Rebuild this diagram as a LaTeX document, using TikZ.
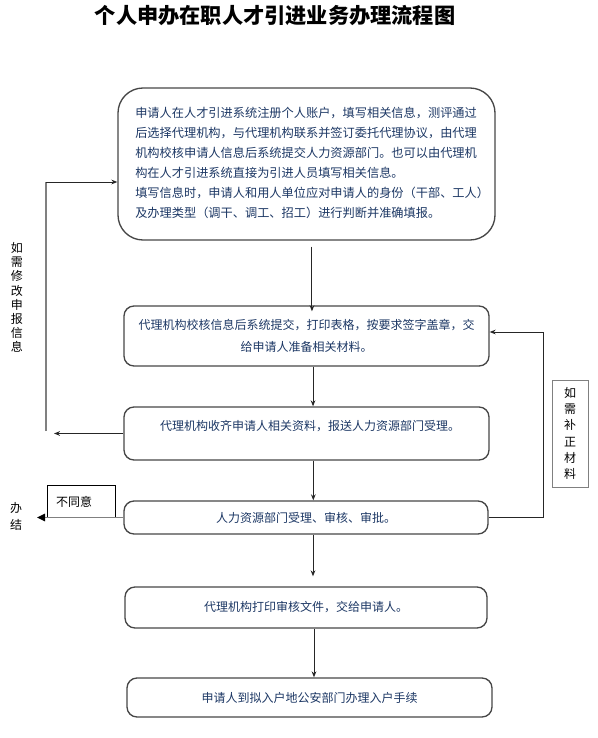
\documentclass[tikz,border=0pt]{standalone}
\usepackage{fontspec}
\setmainfont{Noto Sans CJK SC}
\usetikzlibrary{arrows.meta}
\definecolor{navy}{RGB}{28,55,100}
\definecolor{boxline}{RGB}{70,70,70}
\definecolor{loopgray}{RGB}{128,128,128}
\begin{document}
\begin{tikzpicture}[x=0.75pt,y=-0.75pt,
  flowbox/.style={draw=boxline, line width=1pt, rounded corners=7.5pt, text=navy,
    font=\fontsize{9}{16.5}\selectfont, align=center, inner sep=0pt},
  arr/.style={draw=black!85, line width=0.75pt, -{Stealth[length=4.5pt,width=3.5pt]}},
  grayline/.style={draw=loopgray, line width=1.4pt},
  vlabel/.style={font=\fontsize{9}{10.6}\selectfont, align=center, inner sep=0pt, text=black},
]
\useasboundingbox (0,0) rectangle (598,738);

\node[font=\bfseries\fontsize{15.9}{15.9}\selectfont, inner sep=0pt] (title) at (275,15.5)
  {个人申办在职人才引进业务办理流程图};

\node[flowbox, rounded corners=18.75pt, minimum width=282.75pt, minimum height=114pt] (b1) at (306.5,164) {};
\node[text=navy, align=left, inner sep=0pt, anchor=west, font=\fontsize{9.15}{15}\selectfont] (t1) at (135,163)
  {申请人在人才引进系统注册个人账户，填写相关信息，测评通过\\
   后选择代理机构，与代理机构联系并签订委托代理协议，由代理\\
   机构校核申请人信息后系统提交人力资源部门。也可以由代理机\\
   构在人才引进系统直接为引进人员填写相关信息。\\
   填写信息时，申请人和用人单位应对申请人的身份（干部、工人）\\
   及办理类型（调干、调工、招工）进行判断并准确填报。};

\node[flowbox, minimum width=273.75pt, minimum height=45pt] (b2) at (306.5,336)
  {代理机构校核信息后系统提交，打印表格，按要求签字盖章，交\\给申请人准备相关材料。};

\node[flowbox, minimum width=273.75pt, minimum height=39.75pt] (b3) at (306.5,433.5) {};
\node[text=navy, font=\fontsize{9}{9}\selectfont, inner sep=0pt] (t3) at (310,426)
  {代理机构收齐申请人相关资料，报送人力资源部门受理。};

\node[flowbox, minimum width=273pt, minimum height=24.75pt] (b4) at (306,517.5)
  {人力资源部门受理、审核、审批。};

\node[flowbox, minimum width=271.5pt, minimum height=30.75pt] (b5) at (306,607.5)
  {代理机构打印审核文件，交给申请人。};

\node[flowbox, minimum width=273.75pt, minimum height=29.25pt] (b6) at (309.5,697.5)
  {申请人到拟入户地公安部门办理入户手续};

% main vertical arrows
\draw[arr] ([xshift=4.1pt,yshift=-4.5pt]b1.south) -- ([xshift=4.1pt,yshift=-4.5pt]b1.south |- b2.north);
\draw[arr] ([xshift=4.9pt]b2.south) -- ([xshift=4.9pt]b2.south |- b3.north);
\draw[arr] ([xshift=5.1pt]b3.south) -- ([xshift=5.1pt]b3.south |- b4.north);
\draw[arr] ([xshift=5.25pt]b4.south) -- ([xshift=5.25pt,yshift=7.5pt]b4.south |- b5.north);
\draw[arr] ([xshift=6pt]b5.south) -- ([xshift=6pt]b5.south |- b6.north);

% left loop
\coordinate (lend) at (54,433.5);
\coordinate (lb) at (46,431);
\coordinate (lt) at (46,182);
\draw[arr] (b3.west) -- (lend);
\draw[grayline] (lb) -- (lt);
\draw[arr] (lt) -- (lt -| b1.west);
\node[vlabel] (lab1) at (17,297.5) {如\\需\\修\\改\\申\\报\\信\\息};

% right loop
\coordinate (rt) at (543,332);
\draw[arr] (b4.east) -| (rt) -- (rt -| b2.east);
\node[draw=loopgray, line width=0.6pt, minimum width=27pt, minimum height=80.25pt,
  inner sep=0pt, align=center, font=\fontsize{9}{12.15}\selectfont] (fix) at (570,433.5)
  {如\\需\\补\\正\\材\\料};

% reject branch
\node[draw=black, line width=0.6pt, minimum width=51pt, minimum height=24pt, text width=37.5pt,
  inner xsep=6.75pt, inner ysep=0pt, align=left, font=\fontsize{9}{9}\selectfont] (no) at (81,501.5) {不同意};
\coordinate (rej) at (37,517.5);
\draw[grayline, -{Triangle[length=6pt,width=5.5pt,color=black]}] (b4.west) -- (rej);
\node[vlabel, font=\fontsize{9}{12.75}\selectfont] (lab2) at (16,516.5) {办\\结};
\end{tikzpicture}
\end{document}
